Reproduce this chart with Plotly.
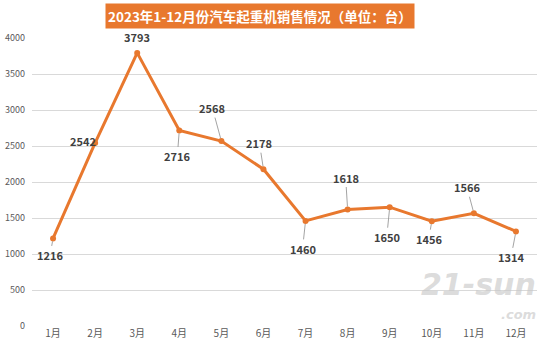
import plotly.graph_objects as go

months = ["1月", "2月", "3月", "4月", "5月", "6月", "7月", "8月", "9月", "10月", "11月", "12月"]
sales = [1216, 2542, 3793, 2716, 2568, 2178, 1460, 1618, 1650, 1456, 1566, 1314]
y_ticks = [0, 500, 1000, 1500, 2000, 2500, 3000, 3500, 4000]
title_text = "2023年1-12月份汽车起重机销售情况（单位：台）"

# label offsets (pixels) relative to each point; flag = draw leader line
label_offsets = [(-3, 17, True), (-12, -2, False), (0, -16, False), (-2, 26, True),
                 (-9, -33, True), (-4, -26, True), (-3, 28, True), (-2, -32, True),
                 (-3, 30, True), (-3, 18, True), (-7, -26, True), (-5, 26, True)]

orange = "#E8782E"
font_family = "Noto Sans CJK SC, Noto Sans, sans-serif"

# pixel geometry of the plot area
L, R, T, B = 32, 537, 38, 326


def px(x):
    return (x - L) / (R - L)


def py(y):
    return (B - y) / (B - T)


fig = go.Figure()
fig.add_trace(go.Scatter(
    x=months, y=sales, mode="lines+markers",
    line=dict(color=orange, width=3),
    marker=dict(color=orange, size=6),
    hoverinfo="x+y", showlegend=False,
))

lab_font = dict(family=font_family, size=11, color="#404040", weight="bold")
for m, v, (dx, dy, arrow) in zip(months, sales, label_offsets):
    if arrow:
        fig.add_annotation(
            x=m, y=v, xref="x", yref="y", text=str(v),
            showarrow=True, arrowhead=0, arrowwidth=0.8, arrowcolor="#8c8c8c",
            ax=dx, ay=dy, standoff=3, font=lab_font,
        )
    else:
        fig.add_annotation(
            x=m, y=v, xref="x", yref="y", text=str(v),
            showarrow=False, xshift=dx, yshift=-dy, xanchor="center", yanchor="middle",
            font=lab_font,
        )

fig.add_annotation(
    x=px(260), y=py(15.5), xref="paper", yref="paper", text="<b>" + title_text + "</b>",
    showarrow=False, bgcolor=orange, borderpad=2, xanchor="center", yanchor="middle",
    font=dict(family=font_family, size=13.5, color="white"),
)

# watermark
wm_color = "rgba(200,200,200,0.65)"
fig.add_annotation(xref="paper", yref="paper", x=px(538), y=py(304), xanchor="right", yanchor="bottom",
                   text="<b><i>21-sun</i></b>", showarrow=False,
                   font=dict(family="DejaVu Sans", size=30, color=wm_color))
fig.add_annotation(xref="paper", yref="paper", x=px(538), y=py(305), xanchor="right", yanchor="top",
                   text="<b><i>.com</i></b>", showarrow=False,
                   font=dict(family="DejaVu Sans", size=13, color=wm_color))

fig.update_layout(
    width=550, height=353,
    margin=dict(l=L, r=550 - R, t=T, b=353 - B, autoexpand=False),
    paper_bgcolor="white", plot_bgcolor="white",
    font=dict(family=font_family),
    xaxis=dict(range=[-0.5, 11.5], showgrid=False, showline=False, zeroline=False,
               automargin=False,
               tickfont=dict(size=10, color="#595959"), ticks=""),
    yaxis=dict(range=[0, 4000], tickvals=y_ticks, showgrid=True, gridcolor="#d9d9d9",
               gridwidth=1, zeroline=False, showline=False, automargin=False,
               tickfont=dict(size=9, color="#595959"), ticks="", ticklabelstandoff=6),
)

fig.write_html("out.html")
